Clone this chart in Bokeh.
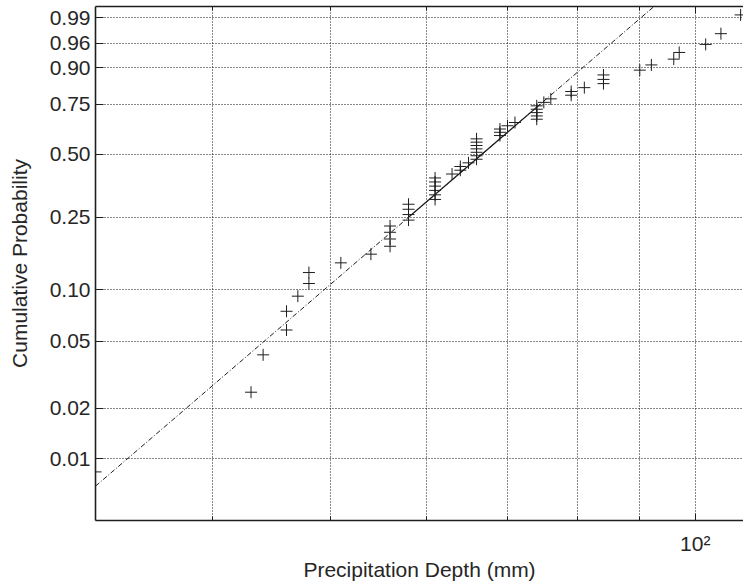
import numpy as np
from bokeh.plotting import figure
from bokeh.models import FixedTicker, LogAxis, Range1d, ColumnDataSource
from bokeh.embed import file_html
from bokeh.resources import INLINE

# ---- data (sorted precipitation depths, mm) ----
depth_mm = [32, 43, 44, 46, 46, 47, 48, 48, 51, 54,
            56, 56, 56, 56, 58, 58, 58, 58,
            61, 61, 61, 61, 61, 61,
            63, 64, 64, 65,
            66, 66, 66, 66, 66, 66, 66,
            69, 69, 69, 70, 71,
            74, 74, 74, 74, 74, 75, 76,
            79, 79, 81, 84, 84, 84,
            90, 92, 96, 97, 102, 105, 109]

prob_ticks = [0.01, 0.02, 0.05, 0.10, 0.25, 0.50, 0.75, 0.90, 0.96, 0.99]
prob_labels = ["0.01", "0.02", "0.05", "0.10", "0.25", "0.50", "0.75", "0.90", "0.96", "0.99"]
x_grid_ticks = [40, 50, 60, 70, 80, 90, 100]
x_label_ticks = [100]
x_tick_labels = ["10\u00b2"]
x_limits = [32.0, 109.6]
prob_limits = [0.00425, 0.9954]
ref_percentiles = [25, 75]

FONT = "Liberation Sans"
TXT = "#262626"
INK = "#1e1e1e"


def weib(p):
    p = np.asarray(p, dtype=float)
    return np.log(-np.log(1.0 - p))


def mprctile(xs, pct):
    xs = np.sort(np.asarray(xs, dtype=float))
    n = len(xs)
    pos = pct / 100.0 * n + 0.5
    lo = int(np.floor(pos))
    frac = pos - lo
    lo = min(max(lo, 1), n)
    hi = min(lo + 1, n)
    return xs[lo - 1] + frac * (xs[hi - 1] - xs[lo - 1])


x = np.sort(np.asarray(depth_mm, dtype=float))
n = len(x)
pp = (np.arange(1, n + 1) - 0.5) / n
src = ColumnDataSource(dict(x=x, w=weib(pp)))

# reference line through the quartiles (Weibull probability plot)
q1 = mprctile(x, ref_percentiles[0])
q3 = mprctile(x, ref_percentiles[1])
w1 = float(weib(ref_percentiles[0] / 100.0))
w3 = float(weib(ref_percentiles[1] / 100.0))
slope = (w3 - w1) / (np.log(q3) - np.log(q1))


def ref_w(xv):
    return w1 + (np.log(xv) - np.log(q1)) * slope


wl = weib(prob_limits)

p = figure(width=743, height=587, x_axis_type="log",
           x_range=Range1d(x_limits[0], x_limits[1]),
           y_range=Range1d(float(wl[0]), float(wl[1])),
           toolbar_location=None, output_backend="svg",
           min_border_left=95, min_border_right=0,
           min_border_top=6, min_border_bottom=67)
p.outline_line_color = None
p.background_fill_color = "white"
p.border_fill_color = "white"

# grids
p.xgrid.ticker = FixedTicker(ticks=x_grid_ticks)
ytick_w = [float(v) for v in weib(prob_ticks)]
p.ygrid.ticker = FixedTicker(ticks=ytick_w)
for g in (p.xgrid[0], p.ygrid[0]):
    g.grid_line_color = "#111111"
    g.grid_line_dash = "1 2"
    g.grid_line_width = 1
    g.grid_line_alpha = 1.0

# reference lines
xd = np.array([x.min(), x.max()])
p.line(xd, ref_w(xd), line_color=INK, line_width=1, line_dash="5 2 1 2")
xs_ = np.array([q1, q3])
p.line(xs_, ref_w(xs_), line_color=INK, line_width=1.2)

# data
p.scatter("x", "w", source=src, marker="cross", size=12,
          line_color=INK, line_width=1)

# bottom x axis
xa = p.xaxis[0]
xa.ticker = FixedTicker(ticks=x_label_ticks, minor_ticks=x_grid_ticks[:-1])
xa.major_label_overrides = {t: lab for t, lab in zip(x_label_ticks, x_tick_labels)}
xa.axis_label = "Precipitation Depth (mm)"
xa.major_label_standoff = 11
xa.axis_label_standoff = 0

# left y axis
ya = p.yaxis[0]
ya.ticker = FixedTicker(ticks=ytick_w)
ya.major_label_overrides = {t: lab for t, lab in zip(ytick_w, prob_labels)}
ya.axis_label = "Cumulative Probability"
ya.major_label_standoff = 5
ya.axis_label_standoff = 16

# top border axis (line + inward ticks only)
top = LogAxis(ticker=FixedTicker(ticks=x_label_ticks, minor_ticks=x_grid_ticks[:-1]),
              major_label_text_font_size="1px", major_label_text_alpha=0.0,
              major_label_standoff=0)
p.add_layout(top, "above")

for ax in (xa, ya, top):
    ax.axis_line_color = INK
    ax.axis_line_width = 1.6
    ax.major_tick_in = 7
    ax.major_tick_out = 0
    ax.minor_tick_in = 4
    ax.minor_tick_out = 0
    ax.major_tick_line_color = INK
    ax.minor_tick_line_color = INK
    ax.major_label_text_font = FONT
    ax.axis_label_text_font = FONT
    ax.axis_label_text_font_style = "normal"
    ax.axis_label_text_color = TXT
    ax.axis_label_text_font_size = "21px"
for ax in (xa, ya):
    ax.major_label_text_color = TXT
    ax.major_label_text_font_size = "21px"
ya.major_tick_in = 8

open("out.html", "w").write(file_html(p, INLINE))
